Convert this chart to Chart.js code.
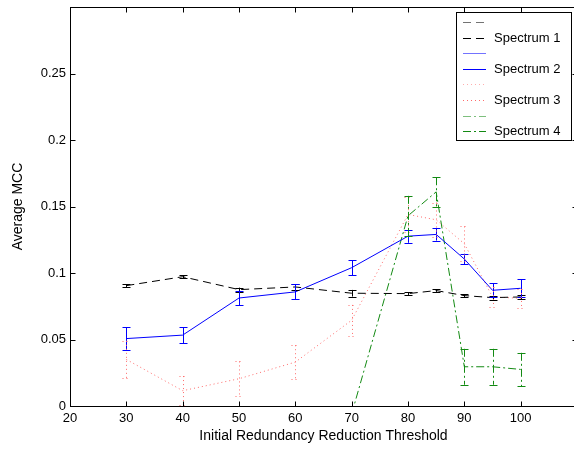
<!doctype html>
<html lang="en">
<head>
  <meta charset="utf-8">
  <title>Average MCC</title>
  <script src="https://cdn.jsdelivr.net/npm/chart.js"></script>
  <style>
    html, body { margin: 0; padding: 0; overflow: hidden; background: #fff; }
    #wrap { width: 574px; height: 452px; overflow: hidden; }
    canvas { display: block; }
  </style>
</head>
<body>
  <div id="wrap"><canvas id="mccChart" width="600" height="452"></canvas></div>

  <script>
    // thresholds on the x axis
    const thresholds = [30, 40, 50, 60, 70, 80, 85, 90, 95, 100];

    const spec1 = [0.0905, 0.0972, 0.0875, 0.0895, 0.0848, 0.0845, 0.0868, 0.0830, 0.0815, 0.0820];
    const spec1Err = [0.001, 0.001, 0.0015, 0.002, 0.0025, 0.001, 0.001, 0.0012, 0.0015, 0.0015];

    const spec2 = [0.0507, 0.0533, 0.0812, 0.0858, 0.1040, 0.1277, 0.1290, 0.1105, 0.0870, 0.0885];
    const spec2Err = [0.0085, 0.006, 0.0056, 0.0056, 0.0056, 0.005, 0.0046, 0.004, 0.0052, 0.0068];

    const spec3 = [0.035, 0.0115, 0.0205, 0.0330, 0.0645, 0.144, 0.140, 0.122, 0.082, 0.081];
    const spec3Err = [0.014, 0.011, 0.013, 0.0127, 0.0115, 0.013, 0.013, 0.013, 0.0075, 0.007];

    const spec4 = [null, null, null, null, -0.006, 0.143, 0.161, 0.0295, 0.0295, 0.0275];
    const spec4Err = [null, null, null, null, 0.003, 0.015, 0.011, 0.0135, 0.0135, 0.0125];

    const xTicksHidden = [110];
    const yTicksHidden = [0.3];

    const FONT = '"Liberation Sans", Arial, Helvetica, sans-serif';

    const series = [
      { label: 'Spectrum 1', values: spec1, err: spec1Err, color: '#000000', dash: [8, 5] },
      { label: 'Spectrum 2', values: spec2, err: spec2Err, color: '#0000ff', dash: [] },
      { label: 'Spectrum 3', values: spec3, err: spec3Err, color: '#ff6a6a', dash: [1, 3] },
      { label: 'Spectrum 4', values: spec4, err: spec4Err, color: '#138a13', dash: [8, 3, 2, 3] }
    ];

    const toPoints = vals => thresholds.map((t, i) => ({ x: t, y: vals[i] }));

    // error bars drawn through the scales
    const errorBars = {
      id: 'errorBars',
      afterDatasetsDraw(chart) {
        const { ctx, chartArea: a, scales: { x, y } } = chart;
        ctx.save();
        ctx.beginPath();
        ctx.rect(a.left, a.top, a.right - a.left, a.bottom - a.top);
        ctx.clip();
        ctx.lineWidth = 1;
        series.forEach(s => {
          ctx.strokeStyle = s.color;
          ctx.setLineDash(s.dash);
          thresholds.forEach((t, i) => {
            if (s.values[i] == null || s.err[i] == null) return;
            const px = Math.round(x.getPixelForValue(t)) + 0.5;
            const top = y.getPixelForValue(s.values[i] + s.err[i]);
            const bot = y.getPixelForValue(s.values[i] - s.err[i]);
            const cap = 4;
            ctx.beginPath();
            ctx.moveTo(px, top); ctx.lineTo(px, bot);
            ctx.moveTo(px - cap, Math.round(top) + 0.5); ctx.lineTo(px + cap, Math.round(top) + 0.5);
            ctx.moveTo(px - cap, Math.round(bot) + 0.5); ctx.lineTo(px + cap, Math.round(bot) + 0.5);
            ctx.stroke();
          });
        });
        ctx.restore();
      }
    };

    // box frame with inward ticks on all sides
    const frameTicks = {
      id: 'frameTicks',
      afterDraw(chart) {
        const { ctx, chartArea: a, scales: { x, y } } = chart;
        const L = Math.round(a.left) + 0.5, R = Math.round(a.right) + 0.5;
        const T = Math.round(a.top) + 0.5, B = Math.round(a.bottom) + 0.5;
        ctx.save();
        ctx.strokeStyle = '#000';
        ctx.lineWidth = 1;
        ctx.setLineDash([]);
        ctx.strokeRect(L, T, R - L, B - T);
        const len = 5;
        ctx.beginPath();
        x.ticks.forEach(tk => {
          const px = Math.round(x.getPixelForValue(tk.value)) + 0.5;
          ctx.moveTo(px, B); ctx.lineTo(px, B - len);
          ctx.moveTo(px, T); ctx.lineTo(px, T + len);
        });
        y.ticks.forEach(tk => {
          const py = Math.round(y.getPixelForValue(tk.value)) + 0.5;
          ctx.moveTo(L, py); ctx.lineTo(L + len, py);
          ctx.moveTo(R, py); ctx.lineTo(R - len, py);
        });
        ctx.stroke();
        ctx.restore();
      }
    };

    // matlab style legend: two rows per errorbar series
    const boxLegend = {
      id: 'boxLegend',
      afterDraw(chart) {
        const { ctx } = chart;
        const bx = 456.5, by = 12.5, bw = 115, bh = 128;
        ctx.save();
        ctx.fillStyle = '#fff';
        ctx.fillRect(bx, by, bw, bh);
        ctx.strokeStyle = '#000';
        ctx.lineWidth = 1;
        ctx.setLineDash([]);
        ctx.strokeRect(bx, by, bw, bh);
        ctx.font = '13px ' + FONT;
        ctx.textBaseline = 'middle';
        ctx.fillStyle = '#000';
        let row = 0;
        series.forEach(s => {
          [0, 1].forEach(k => {
            const yy = Math.round(22 + row * 15.6) + 0.5;
            ctx.globalAlpha = k === 0 ? 0.55 : 1;
            ctx.strokeStyle = s.color;
            ctx.setLineDash(s.dash);
            ctx.beginPath();
            ctx.moveTo(463, yy); ctx.lineTo(486, yy);
            ctx.stroke();
            ctx.globalAlpha = 1;
            if (k === 1) ctx.fillText(s.label, 494, yy);
            row++;
          });
        });
        ctx.restore();
      }
    };

    const ctx = document.getElementById('mccChart').getContext('2d');
    new Chart(ctx, {
      type: 'line',
      data: {
        datasets: series.map(s => ({
          label: s.label,
          data: toPoints(s.values),
          borderColor: s.color,
          borderWidth: 1,
          borderDash: s.dash,
          pointRadius: 0,
          tension: 0,
          fill: false,
          spanGaps: false
        }))
      },
      options: {
        responsive: false,
        animation: false,
        // canvas is wider than the window: the right edge of the box falls just outside
        layout: { padding: { top: 7, right: 23, left: 0, bottom: 0 } },
        plugins: { legend: { display: false }, tooltip: { enabled: false } },
        scales: {
          x: {
            type: 'linear',
            min: 20,
            max: 110,
            afterFit: sc => { sc.height = 46; sc.paddingLeft = 0; sc.paddingRight = 0; },
            grid: { display: false, drawTicks: false },
            border: { display: false },
            ticks: {
              stepSize: 10,
              padding: 5,
              color: '#000',
              font: { family: FONT, size: 13 },
              maxRotation: 0,
              callback: v => xTicksHidden.includes(v) ? '' : String(v)
            },
            title: {
              display: true,
              text: 'Initial Redundancy Reduction Threshold',
              color: '#000',
              font: { family: FONT, size: 14 },
              padding: { top: 0, bottom: 7 }
            }
          },
          y: {
            min: 0,
            max: 0.3,
            afterFit: sc => { sc.width = 70; sc.paddingTop = 0; sc.paddingBottom = 0; },
            grid: { display: false, drawTicks: false },
            border: { display: false },
            ticks: {
              stepSize: 0.05,
              padding: 4,
              color: '#000',
              font: { family: FONT, size: 13 },
              callback: v => yTicksHidden.some(h => Math.abs(h - v) < 1e-9) ? '' : String(+v.toFixed(2))
            },
            title: {
              display: true,
              text: 'Average MCC',
              color: '#000',
              font: { family: FONT, size: 14 },
              padding: { top: 10, bottom: 0 }
            }
          }
        }
      },
      plugins: [errorBars, frameTicks, boxLegend]
    });
  </script>
</body>
</html>
